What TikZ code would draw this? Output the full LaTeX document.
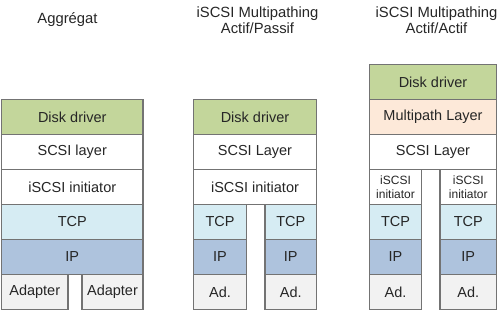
\documentclass[tikz,border=0pt]{standalone}
\usepackage{fontspec}
\setmainfont{Liberation Sans}
\definecolor{drvgreen}{HTML}{C3D69B}
\definecolor{mppeach}{HTML}{FDE9D9}
\definecolor{tcpblue}{HTML}{D6ECF3}
\definecolor{ipblue}{HTML}{AEC3DD}
\definecolor{adgray}{HTML}{F2F2F2}
\definecolor{bordergray}{HTML}{737373}
\definecolor{txt}{HTML}{262626}
\begin{document}
\begin{tikzpicture}[x=1pt,y=-1pt,
  layer/.style={draw=bordergray,line width=1.3pt,inner sep=0pt,minimum height=35pt,
    text=txt,font=\fontsize{14.5}{17}\selectfont,align=center},
  title/.style={text=txt,font=\fontsize{14.8}{16.5}\selectfont,align=center,inner sep=0pt}]
\useasboundingbox (0,0) rectangle (500,311);
% titles
\node[title] (t1) at (67.5,19.5) {Aggrégat};
\node[title] (t2) at (257.5,20) {iSCSI Multipathing\\Actif/Passif};
\node[title] (t3) at (436.5,20) {iSCSI Multipathing\\Actif/Actif};
% column 1
\node[layer,fill=drvgreen,minimum width=141.5pt] (a1) at (72.25,117) {Disk driver};
\node[layer,fill=white,minimum width=141.5pt] (a2) at (72.25,152) {SCSI layer};
\node[layer,fill=white,minimum width=141.5pt] (a3) at (72.25,187) {iSCSI initiator};
\node[layer,fill=tcpblue,minimum width=141.5pt] (a4) at (72.25,222) {TCP};
\node[layer,fill=ipblue,minimum width=141.5pt] (a5) at (72.25,257) {IP};
\node[layer,fill=adgray,minimum width=66.5pt] (a6) at (34.75,292) {Adapter};
\node[layer,fill=adgray,minimum width=61pt] (a7) at (112.5,292) {Adapter};
% column 2
\node[layer,fill=drvgreen,minimum width=123pt] (b1) at (255,117) {Disk driver};
\node[layer,fill=white,minimum width=123pt] (b2) at (255,152) {SCSI Layer};
\node[layer,fill=white,minimum width=123pt] (b3) at (255,187) {iSCSI initiator};
\node[layer,fill=tcpblue,minimum width=53pt] (b4) at (220,222) {TCP};
\node[layer,fill=ipblue,minimum width=53pt] (b5) at (220,257) {IP};
\node[layer,fill=adgray,minimum width=53pt] (b6) at (220,292) {Ad.};
\node[layer,fill=tcpblue,minimum width=51.5pt] (b7) at (290.75,222) {TCP};
\node[layer,fill=ipblue,minimum width=51.5pt] (b8) at (290.75,257) {IP};
\node[layer,fill=adgray,minimum width=51.5pt] (b9) at (290.75,292) {Ad.};
% column 3
\node[layer,fill=drvgreen,minimum width=127pt] (c1) at (433,82) {Disk driver};
\node[layer,fill=mppeach,minimum width=127pt] (c2) at (433,117) {Multipath Layer};
\node[layer,fill=white,minimum width=127pt] (c3) at (433,152) {SCSI Layer};
\node[layer,fill=white,minimum width=52pt,font=\fontsize{12}{13.5}\selectfont] (c4) at (395.5,187) {iSCSI\\initiator};
\node[layer,fill=tcpblue,minimum width=52pt] (c5) at (395.5,222) {TCP};
\node[layer,fill=ipblue,minimum width=52pt] (c6) at (395.5,257) {IP};
\node[layer,fill=adgray,minimum width=52pt] (c7) at (395.5,292) {Ad.};
\node[layer,fill=white,minimum width=56.5pt,font=\fontsize{12}{13.5}\selectfont] (c8) at (468.25,187) {iSCSI\\initiator};
\node[layer,fill=tcpblue,minimum width=56.5pt] (c9) at (468.25,222) {TCP};
\node[layer,fill=ipblue,minimum width=56.5pt] (c10) at (468.25,257) {IP};
\node[layer,fill=adgray,minimum width=56.5pt] (c11) at (468.25,292) {Ad.};
\end{tikzpicture}
\end{document}
